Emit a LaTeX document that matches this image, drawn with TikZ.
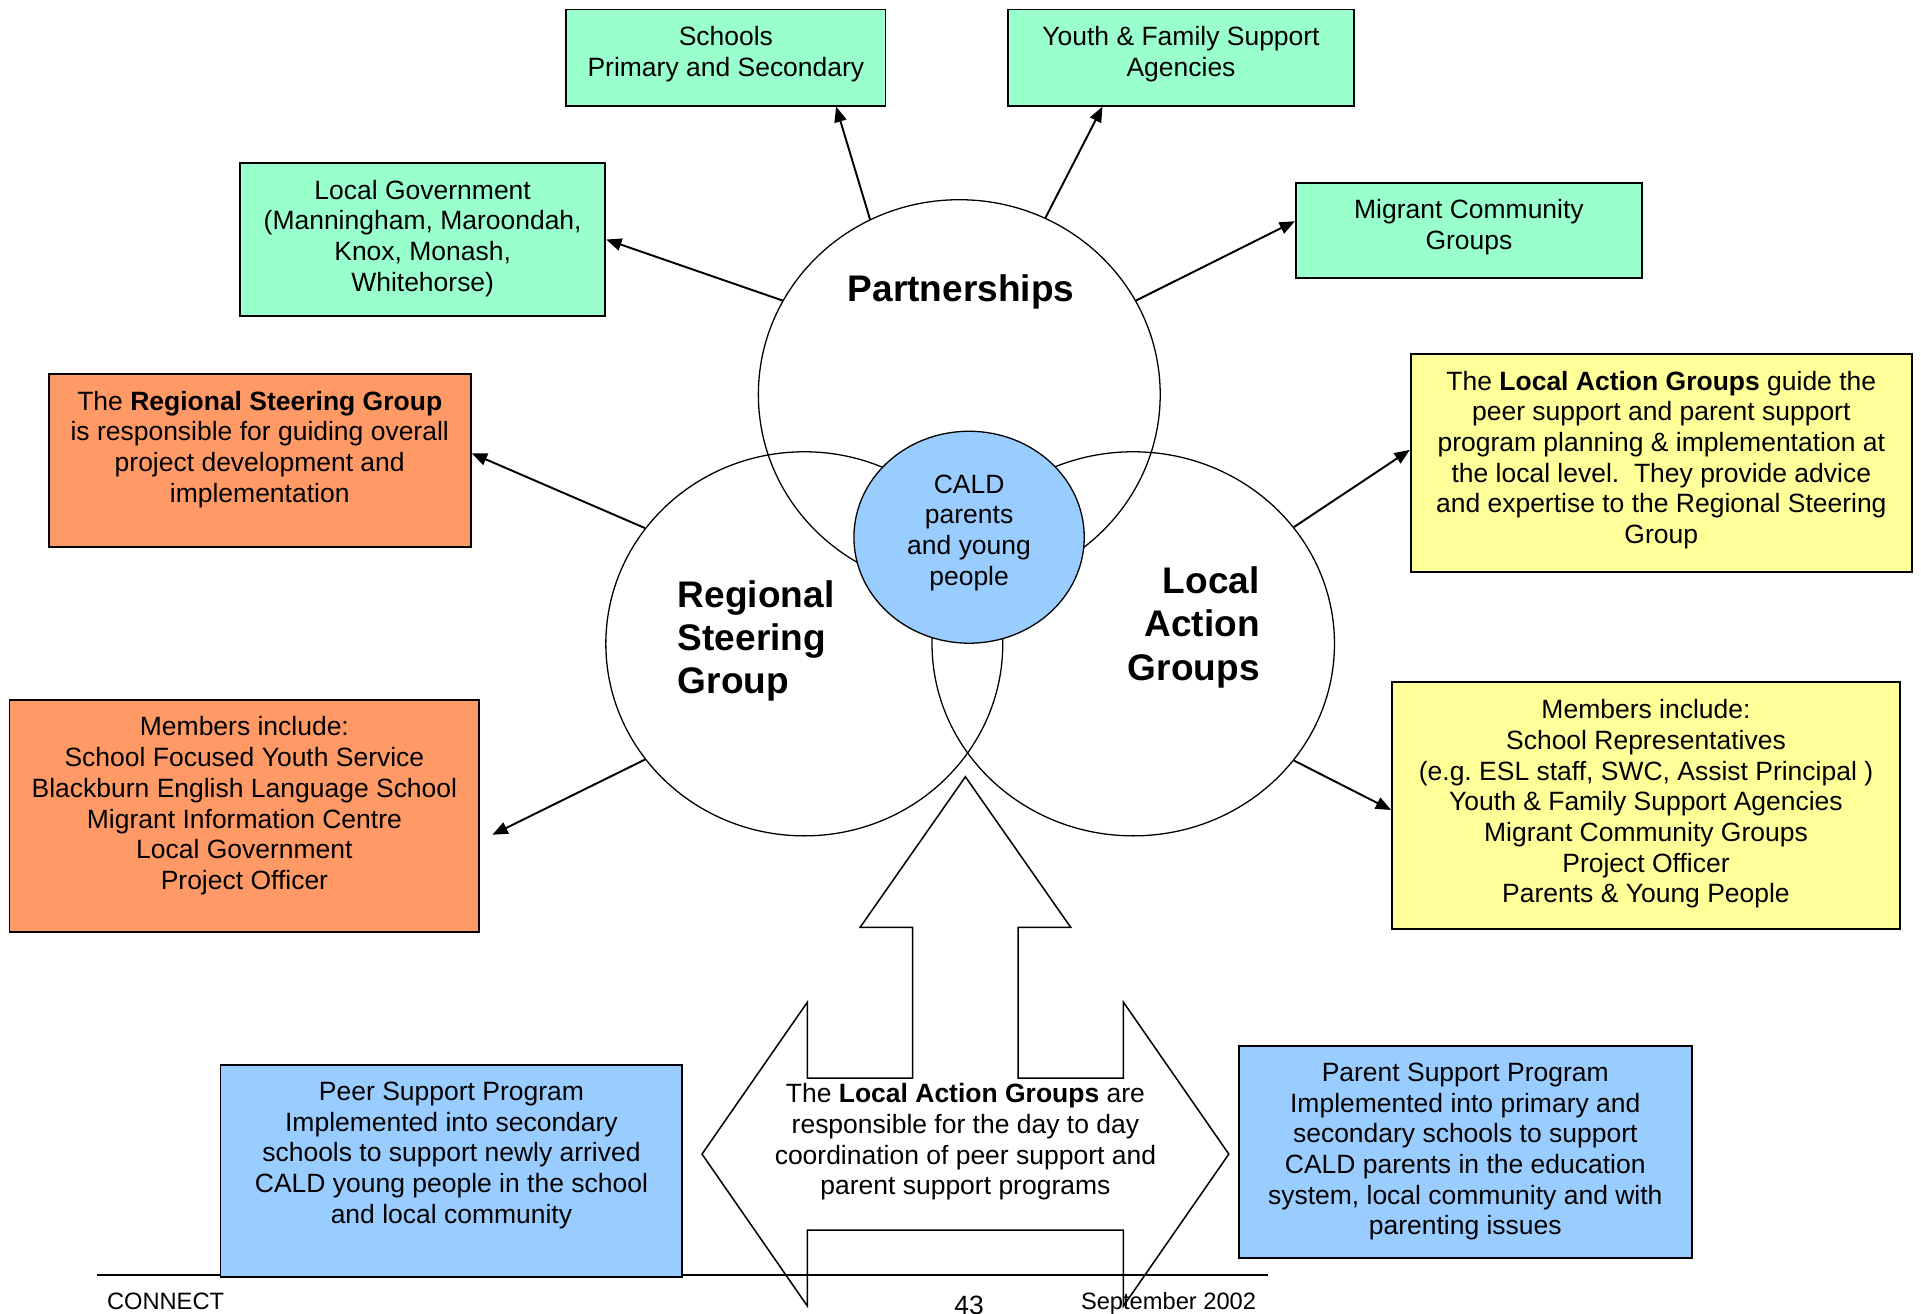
\documentclass[tikz,border=0pt]{standalone}
\usepackage{fontspec}
\setmainfont{Liberation Sans}
\usetikzlibrary{arrows.meta,positioning,shapes.geometric}
\definecolor{mint}{HTML}{99FFCC}
\definecolor{salmon}{HTML}{FF9966}
\definecolor{lemon}{HTML}{FFFF99}
\definecolor{sky}{HTML}{99CCFF}
\tikzset{
  card/.style={rectangle, draw=black, line width=0.9pt, inner sep=0pt},
  cardtext/.style={align=center, inner sep=0pt, font=\fontsize{12.3}{14.25}\selectfont},
  ring/.style={ellipse, draw=black, line width=0.6pt, inner sep=0pt},
  ringlabel/.style={inner sep=0pt, font=\fontsize{17.2}{20}\selectfont\bfseries},
  flow/.style={-{Triangle[length=2.5mm, width=2mm]}, line width=0.9pt, draw=black},
  footer/.style={inner sep=0pt, font=\fontsize{11}{13}\selectfont},
}

\begin{document}
\begin{tikzpicture}[
  partner/.style={card, fill=mint},
  steer/.style={card, fill=salmon},
  action/.style={card, fill=lemon},
  program/.style={card, fill=sky}]
  \useasboundingbox (0,0) rectangle (31.36,-21.44);
  % three overlapping circles and the centre
  \node[ring, minimum width=6.56cm, minimum height=6.36cm] (part) at (15.66,-6.44) {};
  \node[ring, minimum width=6.48cm, minimum height=6.27cm] (rsg) at (13.13,-10.51) {};
  \node[ring, minimum width=6.57cm, minimum height=6.27cm] (lag) at (18.50,-10.51) {};
  \node[ring, fill=sky, minimum width=3.76cm, minimum height=3.46cm] (cald) at (15.82,-8.77) {};
  \node[cardtext, below=0.71cm of cald.north] (caldT) {CALD\\parents\\and young\\people};
  \node[ringlabel, anchor=base] (partL) at (15.69,-4.92) {Partnerships};
  \node[ringlabel, anchor=north west, align=left] (rsgL) at (11.06,-9.47) {Regional\\Steering\\Group};
  \node[ringlabel, anchor=north east, align=right] (lagL) at (20.57,-9.25) {Local\\Action\\Groups};
  % partnership boxes
  \node[partner, minimum width=5.21cm, minimum height=1.57cm] (sch) at (11.85,-0.94) {};
  \node[cardtext, below=0.29cm of sch.north] (schT) {Schools\\Primary and Secondary};
  \node[partner, minimum width=5.64cm, minimum height=1.57cm] (yfs) at (19.28,-0.94) {};
  \node[cardtext, below=0.29cm of yfs.north] (yfsT) {Youth \& Family Support\\Agencies};
  \node[partner, minimum width=5.96cm, minimum height=2.49cm] (lgov) at (6.90,-3.91) {};
  \node[cardtext, below=0.28cm of lgov.north] (lgovT) {Local Government\\(Manningham, Maroondah,\\Knox, Monash,\\Whitehorse)};
  \node[partner, minimum width=5.65cm, minimum height=1.55cm] (mcg) at (23.98,-3.76) {};
  \node[cardtext, below=0.28cm of mcg.north] (mcgT) {Migrant Community\\Groups};
  % regional steering group boxes
  \node[steer, minimum width=6.89cm, minimum height=2.82cm] (rsgnote) at (4.24,-7.52) {};
  \node[cardtext, below=0.28cm of rsgnote.north] (rsgnoteT) {The \textbf{Regional Steering Group}\\is responsible for guiding overall\\project development and\\implementation};
  \node[steer, minimum width=7.67cm, minimum height=3.78cm] (rsgmem) at (3.99,-13.32) {};
  \node[cardtext, below=0.28cm of rsgmem.north] (rsgmemT) {Members include:\\School Focused Youth Service\\Blackburn English Language School\\Migrant Information Centre\\Local Government\\Project Officer};
  % local action group boxes
  \node[action, minimum width=8.18cm, minimum height=3.55cm] (lagnote) at (27.12,-7.56) {};
  \node[cardtext, below=0.28cm of lagnote.north] (lagnoteT) {The \textbf{Local Action Groups} guide the\\peer support and parent support\\program planning \& implementation at\\the local level.\ \ They provide advice\\and expertise to the Regional Steering\\Group};
  \node[action, minimum width=8.29cm, minimum height=4.02cm] (lagmem) at (26.87,-13.15) {};
  \node[cardtext, below=0.29cm of lagmem.north] (lagmemT) {Members include:\\School Representatives\\(e.g.\ ESL staff, SWC, Assist Principal )\\Youth \& Family Support Agencies\\Migrant Community Groups\\Project Officer\\Parents \& Young People};
  % connectors
  \draw[flow] (part.117) -- (sch.336);
  \draw[flow] (part.64) -- (yfs.212);
  \draw[flow] (part.152) -- (lgov.east);
  \draw[flow] (part.28) -- (mcg.177);
  \draw[flow] (rsg.144) -- (rsgnote.2);
  \draw[flow, shorten >=0.22cm] (rsg.216) -- (rsgmem.354);
  \draw[flow] (lag.36) -- (lagnote.177);
  \draw[flow] (lag.324) -- (lagmem.181);
  % up and sideways arrow
  \draw[line width=0.7pt] (15.76,-12.68) -- (17.48,-15.14) -- (16.62,-15.14) -- (16.62,-17.60)
    -- (18.34,-17.60) -- (18.34,-16.36) -- (20.06,-18.84) -- (18.34,-21.32) -- (18.34,-20.08)
    -- (13.18,-20.08) -- (13.18,-21.32) -- (11.46,-18.84) -- (13.18,-16.36) -- (13.18,-17.60)
    -- (14.90,-17.60) -- (14.90,-15.14) -- (14.04,-15.14) -- cycle;
  \node[cardtext, anchor=north] (lagduty) at (15.76,-17.68) {The \textbf{Local Action Groups} are\\responsible for the day to day\\coordination of peer support and\\parent support programs};
  % footer
  \draw[line width=0.9pt] (1.58,-20.82) -- (20.70,-20.82);
  \node[footer, anchor=base west] (conn) at (1.74,-21.38) {CONNECT};
  \node[footer, anchor=base, font=\fontsize{12.3}{14}\selectfont] (pagenum) at (15.82,-21.46) {43};
  \node[footer, anchor=base west] (date) at (17.64,-21.38) {September 2002};
  % program boxes
  \node[program, minimum width=7.54cm, minimum height=3.46cm] (peer) at (7.37,-19.11) {};
  \node[cardtext, below=0.29cm of peer.north] (peerT) {Peer Support Program\\Implemented into secondary\\schools to support newly arrived\\CALD young people in the school\\and local community};
  \node[program, minimum width=7.40cm, minimum height=3.46cm] (parent) at (23.92,-18.80) {};
  \node[cardtext, below=0.29cm of parent.north] (parentT) {Parent Support Program\\Implemented into primary and\\secondary schools to support\\CALD parents in the education\\system, local community and with\\parenting issues};
\end{tikzpicture}
\end{document}
